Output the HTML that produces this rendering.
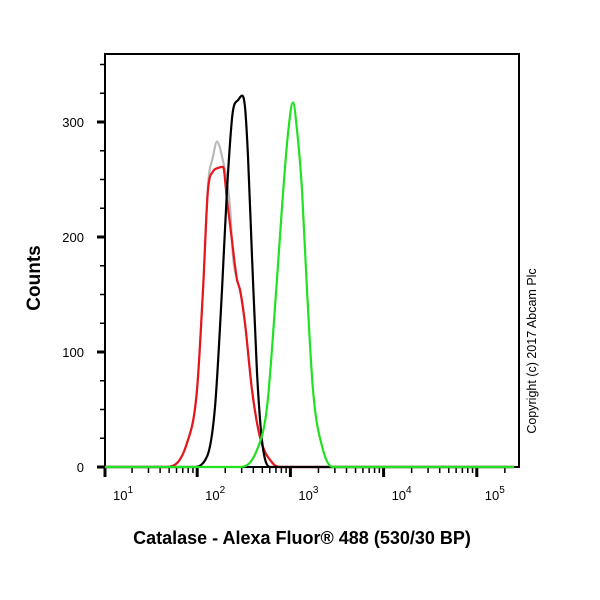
<!DOCTYPE html>
<html><head><meta charset="utf-8"><style>
body{margin:0;background:#fff;}
svg{display:block;font-family:"Liberation Sans",Arial,sans-serif;}
</style></head><body>
<svg id="chart" width="600" height="600">
<rect x="105" y="54" width="414" height="413" fill="none" stroke="#000" stroke-width="2"/>
<g id="axes"></g>
<g id="series"></g>
<text x="0" y="0" transform="translate(40,278) rotate(-90)" text-anchor="middle" font-size="19" font-weight="bold">Counts</text>
<text x="302" y="544" text-anchor="middle" font-size="18" font-weight="bold">Catalase - Alexa Fluor® 488 (530/30 BP)</text>
<text x="0" y="0" transform="translate(536,351) rotate(-90)" text-anchor="middle" font-size="12.5">Copyright (c) 2017 Abcam Plc</text>
</svg>
<script>
const ns="http://www.w3.org/2000/svg";
const yTicks=[0,100,200,300];
const xDecades=[1,2,3,4,5];
const redLog=[0.9,1.676,1.891,1.998,2.062,2.116,2.170,2.223,2.277,2.320,2.373,2.427,2.459,2.513,2.588,2.674,2.813,2.888,5.4];
const redCnt=[0,0,21,67,154,241,257,260,261,232,197,163,154,125,67,26,3,0,0];
const greyLog=[0.9,1.676,1.891,1.998,2.062,2.116,2.170,2.212,2.266,2.352,2.384,2.427,2.459,2.513,2.588,2.674,2.813,2.888,5.4];
const greyCnt=[0,0,21,67,154,245,270,283,270,226,183,163,154,125,67,26,3,0,0];
const blackLog=[0.9,1.955,2.105,2.191,2.266,2.320,2.384,2.438,2.481,2.513,2.545,2.588,2.642,2.695,2.781,5.4];
const blackCnt=[0,0,9,52,154,241,310,319,323,313,270,183,82,23,0,0];
const greenLog=[0.9,2.459,2.642,2.749,2.835,2.910,2.974,3.028,3.071,3.124,3.178,3.242,3.350,3.457,5.4];
const greenCnt=[0,0,15,52,139,226,290,317,293,241,154,67,15,0,0];
const X=d=>Math.max(105,Math.min(519,104+93.2*(d-1)));
const Y=c=>467-1.15*c;
const axes=document.getElementById('axes');
function ln(x1,y1,x2,y2,w,name){const l=document.createElementNS(ns,'line');l.setAttribute('x1',x1);l.setAttribute('y1',y1);l.setAttribute('x2',x2);l.setAttribute('y2',y2);l.setAttribute('stroke','#000');l.setAttribute('stroke-width',w);


axes.appendChild(l);}
for(let c=0;c<=350;c+=25){const major=c%100===0;ln(major?97:100,Y(c),105,Y(c),major?3:1.5,major?'y-major-tick':'y-minor-tick');}
yTicks.forEach(c=>{const t=document.createElementNS(ns,'text');t.setAttribute('x',84);t.setAttribute('y',Y(c)+5);t.setAttribute('text-anchor','end');t.setAttribute('font-size','13');t.textContent=c;


axes.appendChild(t);});
xDecades.forEach(d=>{ln(X(d),467,X(d),477,3,'x-major-tick');
for(let m=2;m<=9;m++){const p=X(d+Math.log10(m));if(p<519)ln(p,467,p,473,1.5,'x-minor-tick');}
const t=document.createElementNS(ns,'text');t.setAttribute('x',X(d)+18);t.setAttribute('y',500);t.setAttribute('text-anchor','middle');t.setAttribute('font-size','13');
t.innerHTML='10<tspan dy="-7" font-size="10">'+d+'</tspan>';


axes.appendChild(t);});
const series=document.getElementById('series');
function draw(xs,ys,col,name){
const px=xs.map(X),py=ys.map(Y),n=px.length;
const dk=[],m=[];
for(let i=0;i<n-1;i++)dk.push((py[i+1]-py[i])/(px[i+1]-px[i]||1));
for(let i=0;i<n;i++){
 if(i===0)m.push(dk[0]);else if(i===n-1)m.push(dk[n-2]);
 else m.push(dk[i-1]*dk[i]<=0?0:(dk[i-1]+dk[i])/2);}
for(let i=0;i<n-1;i++){if(dk[i]===0){m[i]=0;m[i+1]=0;continue;}
 const a=m[i]/dk[i],b=m[i+1]/dk[i],s=a*a+b*b;if(s>9){const t=3/Math.sqrt(s);m[i]=t*a*dk[i];m[i+1]=t*b*dk[i];}}
let s='M'+px[0].toFixed(1)+','+py[0].toFixed(1);
for(let i=0;i<n-1;i++){const h=(px[i+1]-px[i])/3;
 s+='C'+(px[i]+h).toFixed(1)+','+(py[i]+m[i]*h).toFixed(1)+' '+(px[i+1]-h).toFixed(1)+','+(py[i+1]-m[i+1]*h).toFixed(1)+' '+px[i+1].toFixed(1)+','+py[i+1].toFixed(1);}
const p=document.createElementNS(ns,'path');
p.setAttribute('d',s);
p.setAttribute('fill','none');p.setAttribute('stroke',col);p.setAttribute('stroke-width','2.2');p.setAttribute('stroke-linejoin','round');


series.appendChild(p);}
draw(greyLog,greyCnt,'#b8b8b8','grey-histogram');
draw(redLog,redCnt,'#e8151b','red-histogram');
draw(blackLog,blackCnt,'#000000','black-histogram');
draw(greenLog,greenCnt,'#22e022','green-histogram');
</script>
</body></html>
